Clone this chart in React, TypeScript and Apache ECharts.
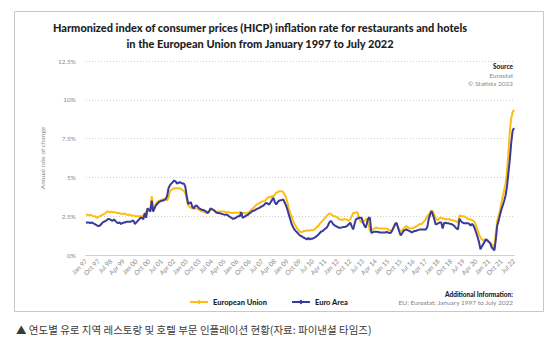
import React, { useEffect, useRef } from "react";
import * as echarts from "echarts";

const MONTHS = ["Jan", "Feb", "Mar", "Apr", "May", "Jun", "Jul", "Aug", "Sep", "Oct", "Nov", "Dec"];
const START_YEAR = 1997;
const END_YEAR = 2022;
const END_MONTH = 7;

// Annual rate of change (%) — European Union, monthly Jan 1997 .. Jul 2022
const euValues: number[] = [
  // 1997
  2.6, 2.6, 2.55, 2.6, 2.55, 2.5, 2.5, 2.45, 2.4, 2.45, 2.5, 2.55,
  // 1998
  2.6, 2.65, 2.7, 2.8, 2.8, 2.75, 2.8, 2.75, 2.75, 2.75, 2.7, 2.7,
  // 1999
  2.7, 2.65, 2.65, 2.65, 2.65, 2.6, 2.6, 2.6, 2.55, 2.55, 2.55, 2.5,
  // 2000
  2.5, 2.5, 2.5, 2.5, 2.5, 2.55, 2.65, 2.8, 2.95, 3.0, 2.95, 3.8,
  // 2001
  3.0, 3.1, 3.3, 3.4, 3.5, 3.5, 3.55, 3.6, 3.6, 3.65, 3.5, 3.7,
  // 2002
  4.1, 4.2, 4.25, 4.3, 4.3, 4.3, 4.3, 4.3, 4.25, 4.2, 4.1, 4.0,
  // 2003
  3.6, 3.2, 3.1, 3.05, 3.0, 3.0, 3.0, 3.0, 2.95, 2.9, 2.85, 2.8,
  // 2004
  2.8, 2.75, 2.7, 2.7, 2.85, 2.9, 2.95, 2.9, 2.85, 2.8, 2.8, 2.8,
  // 2005
  2.8, 2.8, 2.8, 2.8, 2.75, 2.75, 2.75, 2.72, 2.7, 2.7, 2.72, 2.72,
  // 2006
  2.72, 2.72, 2.76, 2.72, 2.7, 2.7, 2.68, 2.68, 2.75, 2.8, 2.9, 2.98,
  // 2007
  3.05, 3.15, 3.25, 3.3, 3.35, 3.4, 3.45, 3.47, 3.5, 3.6, 3.7, 3.75,
  // 2008
  3.7, 3.8, 3.8, 3.9, 4.0, 4.05, 4.1, 4.1, 4.1, 4.05, 3.9, 3.7,
  // 2009
  3.4, 3.0, 2.7, 2.5, 2.2, 2.0, 1.86, 1.7, 1.6, 1.5, 1.48, 1.5,
  // 2010
  1.55, 1.55, 1.6, 1.55, 1.6, 1.6, 1.6, 1.62, 1.7, 1.8, 1.86, 2.0,
  // 2011
  2.1, 2.2, 2.3, 2.4, 2.5, 2.6, 2.68, 2.65, 2.55, 2.5, 2.5, 2.45,
  // 2012
  2.4, 2.3, 2.3, 2.25, 2.3, 2.3, 2.3, 2.25, 2.2, 2.3, 2.5, 2.7,
  // 2013
  2.7, 2.75, 2.75, 2.4, 2.2, 2.1, 2.1, 2.2, 2.3, 2.3, 2.0, 1.54,
  // 2014
  1.6, 1.65, 1.7, 1.75, 1.75, 1.72, 1.7, 1.7, 1.7, 1.7, 1.7, 1.7,
  // 2015
  1.65, 1.6, 1.55, 1.6, 1.75, 1.9, 2.0, 1.8, 1.6, 1.55, 1.6, 1.7,
  // 2016
  1.8, 1.86, 1.8, 1.75, 1.7, 1.7, 1.75, 1.8, 1.85, 1.9, 1.95, 2.0,
  // 2017
  2.0, 2.1, 2.2, 2.3, 2.5, 2.6, 2.75, 2.87, 2.8, 2.6, 2.4, 2.25,
  // 2018
  2.3, 2.4, 2.4, 2.35, 2.35, 2.3, 2.3, 2.3, 2.3, 2.25, 2.25, 2.2,
  // 2019
  2.2, 2.15, 2.1, 2.55, 2.5, 2.5, 2.5, 2.45, 2.4, 2.35, 2.3, 2.3,
  // 2020
  2.25, 2.2, 2.1, 1.86, 1.6, 1.33, 1.15, 1.0, 0.95, 1.0, 1.0, 0.9,
  // 2021
  0.85, 0.8, 0.7, 0.6, 0.47, 1.4, 2.2, 2.5, 2.9, 3.37, 3.8, 4.2,
  // 2022
  4.6, 5.4, 6.6, 8.0, 8.8, 9.2, 9.36,
];

// Annual rate of change (%) — Euro Area, monthly Jan 1997 .. Jul 2022
const euroAreaValues: number[] = [
  // 1997
  2.08, 2.1, 2.1, 2.05, 2.1, 2.05, 2.0, 1.95, 1.9, 1.86, 1.9, 2.0,
  // 1998
  2.1, 2.15, 2.2, 2.25, 2.33, 2.3, 2.25, 2.2, 2.3, 2.2, 2.1, 2.05,
  // 1999
  2.1, 2.0, 2.05, 2.1, 2.1, 2.15, 2.15, 2.15, 2.15, 2.2, 2.2, 2.0,
  // 2000
  2.1, 2.2, 2.3, 2.4, 2.4, 2.3, 2.7, 2.4, 3.0, 2.9, 2.8, 3.5,
  // 2001
  2.8, 3.0, 3.2, 3.3, 3.4, 3.45, 3.5, 3.5, 3.55, 3.6, 3.8, 4.3,
  // 2002
  4.5, 4.6, 4.7, 4.8, 4.75, 4.6, 4.65, 4.7, 4.65, 4.6, 4.6, 4.4,
  // 2003
  3.8, 3.3, 3.35, 3.4, 3.1, 3.0, 3.15, 3.2, 3.1, 3.0, 2.95, 2.9,
  // 2004
  2.9, 2.85, 2.8, 2.7, 2.8, 3.0, 2.95, 2.9, 2.85, 2.75, 2.7, 2.7,
  // 2005
  2.68, 2.65, 2.62, 2.6, 2.6, 2.6, 2.5, 2.45, 2.4, 2.33, 2.35, 2.4,
  // 2006
  2.45, 2.5, 2.5, 2.76, 2.4, 2.45, 2.5, 2.55, 2.6, 2.7, 2.75, 2.83,
  // 2007
  2.85, 2.9, 2.95, 3.0, 3.04, 3.1, 3.15, 3.2, 3.3, 3.36, 3.3, 3.25,
  // 2008
  3.4, 3.55, 3.68, 3.4, 3.25, 3.4, 3.5, 3.53, 3.55, 3.58, 3.4, 3.2,
  // 2009
  2.93, 2.6, 2.3, 2.0, 1.8, 1.65, 1.54, 1.45, 1.35, 1.25, 1.22, 1.15,
  // 2010
  1.1, 1.05, 1.0, 1.1, 1.0, 1.05, 1.05, 1.1, 1.15, 1.22, 1.3, 1.4,
  // 2011
  1.5, 1.54, 1.6, 1.7, 1.75, 1.9, 2.1, 2.2, 2.1, 1.95, 1.9, 1.85,
  // 2012
  1.8, 1.75, 1.75, 1.78, 1.8, 1.8, 1.85, 1.9, 2.0, 2.08, 1.85, 1.65,
  // 2013
  2.0, 2.3, 2.35, 2.4, 2.4, 2.4, 2.1, 1.9, 1.75, 2.1, 2.4, 2.4,
  // 2014
  1.43, 1.45, 1.5, 1.5, 1.5, 1.48, 1.45, 1.45, 1.45, 1.45, 1.45, 1.48,
  // 2015
  1.45, 1.42, 1.43, 1.6, 1.8, 2.0, 2.08, 1.8, 1.5, 1.26, 1.4, 1.55,
  // 2016
  1.6, 1.65, 1.6, 1.55, 1.5, 1.45, 1.5, 1.55, 1.55, 1.6, 1.62, 1.65,
  // 2017
  1.65, 1.65, 1.65, 1.65, 1.8, 2.3, 2.6, 2.83, 2.6, 2.3, 1.97, 2.0,
  // 2018
  2.05, 2.1, 2.1, 1.7, 2.05, 2.08, 2.05, 2.05, 2.02, 2.0, 1.95, 1.9,
  // 2019
  1.8, 1.7, 1.65, 2.33, 2.2, 2.1, 2.05, 2.05, 2.05, 2.05, 2.0, 1.9,
  // 2020
  2.0, 1.9, 1.7, 1.43, 1.15, 0.83, 0.36, 0.55, 0.7, 0.85, 1.0, 0.95,
  // 2021
  0.85, 0.75, 0.5, 0.4, 0.3, 1.0, 1.9, 2.2, 2.6, 2.94, 3.2, 3.5,
  // 2022
  3.85, 4.4, 5.29, 6.15, 7.2, 8.0, 8.18,
];

const yTicks = [0, 2.5, 5, 7.5, 10, 12.5];
const seriesNames = ["European Union", "Euro Area"];
const seriesColors = ["#FDBE11", "#3A3A98"];
const titleLines = [
  "Harmonized index of consumer prices (HICP) inflation rate for restaurants and hotels",
  "in the European Union from January 1997 to July 2022",
];
const caption = "▲ 연도별 유로 지역 레스토랑 및 호텔 부문 인플레이션 현황(자료: 파이낸셜 타임즈)";

function buildCategories(): string[] {
  const out: string[] = [];
  for (let y = START_YEAR; y <= END_YEAR; y++) {
    for (let m = 0; m < 12; m++) {
      if (y === END_YEAR && m >= END_MONTH) break;
      out.push(`${MONTHS[m]} ${String(y).slice(2)}`);
    }
  }
  return out;
}

const FONT = "Lato, 'Open Sans', sans-serif";

export default function App() {
  const ref = useRef<HTMLDivElement>(null);
  useEffect(() => {
    if (!ref.current) return;
    const chart = echarts.init(ref.current, undefined, { renderer: "svg" });
    const categories = buildCategories();
    chart.setOption({
      animation: false,
      backgroundColor: "#ffffff",
      textStyle: { fontFamily: FONT },
      grid: { left: 86, right: 45, top: 61, bottom: 95, containLabel: false },
      xAxis: {
        type: "category",
        data: categories,
        boundaryGap: false,
        axisLine: { lineStyle: { color: "#cfcfcf", width: 1 } },
        axisTick: { show: false },
        axisLabel: {
          interval: 8,
          rotate: 45,
          fontSize: 6.5,
          color: "#8a8a8a",
          margin: 5,
          fontFamily: FONT,
        },
        splitLine: { show: false },
      },
      yAxis: {
        type: "value",
        min: yTicks[0],
        max: yTicks[yTicks.length - 1],
        interval: 2.5,
        name: "Annual rate of change",
        nameLocation: "middle",
        nameGap: 40,
        nameTextStyle: { fontSize: 6.5, color: "#8a8a8a", fontFamily: FONT },
        axisLine: { show: false },
        axisTick: { show: false },
        axisLabel: {
          fontSize: 6.5,
          color: "#8a8a8a",
          margin: 10,
          formatter: (v: number) => `${v}%`,
          fontFamily: FONT,
        },
        splitLine: { lineStyle: { color: "#d0d0d0", type: [1, 2], width: 1 } },
      },
      legend: {
        left: 184,
        top: 293,
        itemGap: 24,
        itemWidth: 18,
        itemHeight: 6,
        textStyle: { fontSize: 7.5, color: "#1e1e1e", fontWeight: 900, fontFamily: FONT },
        data: seriesNames,
      },
      series: seriesNames.map((name, i) => ({
        name,
        type: "line",
        data: i === 0 ? euValues : euroAreaValues,
        showSymbol: false,
        symbol: "diamond",
        symbolSize: 6,
        lineStyle: { color: seriesColors[i], width: 2 },
        itemStyle: { color: seriesColors[i] },
        z: i + 2,
      })),
      graphic: [
        {
          type: "rect",
          shape: { x: 14.5, y: 11.5, width: 529, height: 300 },
          style: { fill: "none", stroke: "#c8c8c8", lineWidth: 1 },
          silent: true,
        },
        {
          type: "text",
          x: 260,
          y: 19,
          style: {
            text: titleLines.join("\n"),
            fontSize: 11,
            fontWeight: 900,
            fill: "#1e1e1e",
            align: "center",
            lineHeight: 16,
            fontFamily: FONT,
          },
        },
        {
          type: "text",
          x: 513,
          y: 63,
          style: { text: "Source", fontSize: 6.5, fontWeight: 900, fill: "#222", align: "right", fontFamily: FONT },
        },
        {
          type: "text",
          x: 513,
          y: 71,
          style: {
            text: "Eurostat\n© Statista 2022",
            fontSize: 6.5,
            fill: "#888",
            align: "right",
            lineHeight: 8,
            fontFamily: FONT,
          },
        },
        {
          type: "text",
          x: 513,
          y: 291,
          style: {
            text: "Additional Information:",
            fontSize: 6.5,
            fontWeight: 900,
            fill: "#222",
            align: "right",
            fontFamily: FONT,
          },
        },
        {
          type: "text",
          x: 513,
          y: 299,
          style: {
            text: "EU; Eurostat; January 1997 to July 2022",
            fontSize: 6.5,
            fill: "#7a7f9a",
            align: "right",
            fontFamily: FONT,
          },
        },
        {
          type: "text",
          x: 16,
          y: 324,
          style: {
            text: caption,
            fontSize: 10.5,
            fill: "#3a3a3a",
            fontFamily: "'Noto Sans CJK KR', sans-serif",
          },
        },
      ],
    });
    return () => chart.dispose();
  }, []);
  return (
    <div
      ref={ref}
      style={{ position: "fixed", left: 0, top: 0, width: 559, height: 350, background: "#fff" }}
    />
  );
}
